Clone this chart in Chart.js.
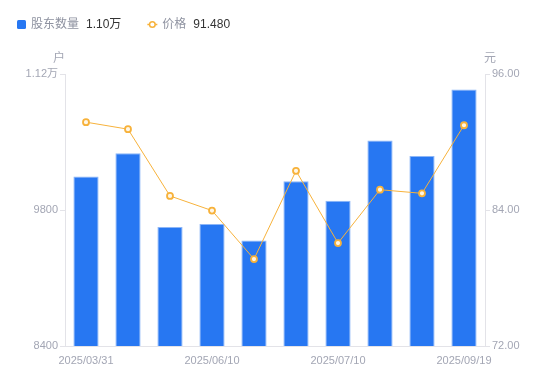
<!DOCTYPE html>
<html><head><meta charset="utf-8">
<script src="https://cdn.jsdelivr.net/npm/chart.js@4"></script>
<style>html,body{margin:0;padding:0;background:#fff}#w{position:relative;width:550px;height:381px}</style>
</head><body><div id="w"><canvas id="c" width="550" height="381"></canvas></div>
<script>
const categories = ['2025/03/31','2025/04/30','2025/05/20','2025/06/10','2025/06/20','2025/06/30','2025/07/10','2025/07/31','2025/08/31','2025/09/19'];
const holders = [10145, 10385, 9625, 9655, 9485, 10095, 9895, 10515, 10355, 11040];
const prices = [91.75, 91.13, 85.24, 83.95, 79.67, 87.46, 81.08, 85.79, 85.47, 91.48];
const leftTicks = [8400, 9800, 11200];
const rightTicks = [72, 84, 96];
const shownLabels = [0, 3, 6, 9];
const legendItems = [
  {name: '股东数量', value: '1.10万', type: 'bar'},
  {name: '价格', value: '91.480', type: 'line'}
];
const BLUE = '#2777F2', ORANGE = '#F7B23B', GREY = '#A3A6B4', AXIS = '#E3E3E8';
const FONT = '"Liberation Sans", "Noto Sans CJK SC", sans-serif';

const overlay = {
  id: 'overlay',
  afterDraw(chart) {
    const ctx = chart.ctx, a = chart.chartArea;
    ctx.save();
    ctx.font = '12px ' + FONT;
    ctx.textBaseline = 'middle';
    ctx.fillStyle = GREY;
    ctx.textAlign = 'center';
    ctx.fillText('户', a.left - 6, a.top - 15);
    ctx.fillText('元', a.right + 5, a.top - 15);
    // legend
    let x = 17; const y = 25;
    legendItems.forEach(it => {
      if (it.type === 'bar') {
        ctx.fillStyle = BLUE;
        ctx.beginPath(); ctx.roundRect(x, y - 5, 9, 9, 1.5); ctx.fill();
        x += 14;
      } else {
        ctx.strokeStyle = ORANGE; ctx.lineWidth = 1.5;
        ctx.beginPath(); ctx.moveTo(x, y - 0.5); ctx.lineTo(x + 10, y - 0.5); ctx.stroke();
        ctx.fillStyle = '#fff';
        ctx.beginPath(); ctx.arc(x + 5, y - 0.5, 2.8, 0, Math.PI * 2); ctx.fill(); ctx.stroke();
        x += 15;
      }
      ctx.textAlign = 'left';
      ctx.font = '12px ' + FONT;
      ctx.fillStyle = '#8E92A0';
      ctx.fillText(it.name, x, y);
      x += ctx.measureText(it.name).width + 7;
      ctx.fillStyle = '#333';
      ctx.fillText(it.value, x, y);
      x += ctx.measureText(it.value).width + 26;
    });
    ctx.restore();
  }
};

new Chart(document.getElementById('c'), {
  data: {
    labels: categories,
    datasets: [
      {type: 'line', label: '价格', data: prices, yAxisID: 'y1', borderColor: ORANGE, borderWidth: 1,
       pointRadius: 3, pointHoverRadius: 3, pointBorderWidth: 1.8, pointBackgroundColor: '#FFF6E6', pointBorderColor: ORANGE, order: 0},
      {type: 'bar', label: '股东数量', data: holders, yAxisID: 'y', backgroundColor: BLUE,
       borderColor: '#8DB6F7', borderWidth: {top: 1, left: 1, right: 1, bottom: 0}, borderSkipped: 'bottom',
       barPercentage: 0.6, categoryPercentage: 1, order: 1}
    ]
  },
  options: {
    responsive: false, animation: false,
    layout: {padding: {top: 74, left: 0, right: 0, bottom: 0}},
    plugins: {legend: {display: false}, tooltip: {enabled: false}},
    scales: {
      x: {
        grid: {display: false},
        border: {display: true, color: AXIS},
        ticks: {autoSkip: false, maxRotation: 0, color: GREY, font: {size: 11, family: FONT}, padding: 0,
          callback: (v, i) => shownLabels.includes(i) ? categories[i] : ''},
        afterFit: s => { s.height = 35; }
      },
      y: {
        position: 'left', min: 8400, max: 11200,
        afterBuildTicks: s => { s.ticks = leftTicks.map(v => ({value: v})); },
        grid: {drawOnChartArea: false, tickLength: 5, color: AXIS},
        border: {display: true, color: AXIS},
        ticks: {color: GREY, font: {size: 11, family: FONT}, padding: 2,
          callback: v => v >= 10000 ? (v / 10000).toFixed(2) + '万' : String(v)},
        afterFit: s => { s.width = 65; }
      },
      y1: {
        position: 'right', min: 72, max: 96,
        afterBuildTicks: s => { s.ticks = rightTicks.map(v => ({value: v})); },
        grid: {drawOnChartArea: false, tickLength: 5, color: AXIS},
        border: {display: true, color: AXIS},
        ticks: {color: GREY, font: {size: 11, family: FONT}, padding: 2, callback: v => v.toFixed(2)},
        afterFit: s => { s.width = 65; }
      }
    }
  },
  plugins: [overlay]
});
</script></body></html>
